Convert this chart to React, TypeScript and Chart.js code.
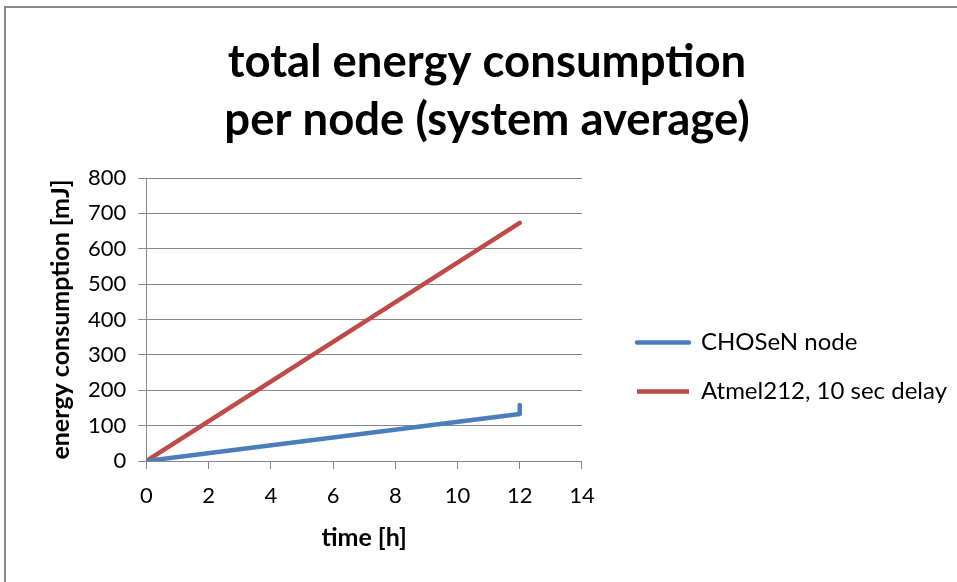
import React, { useEffect, useRef } from "react";
import { Chart, registerables } from "chart.js";

Chart.register(...registerables);

const titleLines = ["total energy consumption", "per node (system average)"];
const xAxisTitle = "time [h]";
const yAxisTitle = "energy consumption [mJ]";

const chosenLabel = "CHOSeN node";
const chosenX = [0, 12, 12];
const chosenY = [0, 133, 158];

const atmelLabel = "Atmel212, 10 sec delay";
const atmelX = [0, 12];
const atmelY = [0, 673];

const FONT = "Lato, 'Open Sans', sans-serif";
const GRID = "#878787";

const borderPlugin = {
  id: "frameBorder",
  beforeDraw(chart: any) {
    const ctx = chart.ctx;
    ctx.save();
    ctx.fillStyle = "#ffffff";
    ctx.fillRect(0, 0, chart.width, chart.height);
    ctx.strokeStyle = "#8a8a8a";
    ctx.lineWidth = 2;
    ctx.beginPath();
    ctx.moveTo(5, chart.height);
    ctx.lineTo(5, 7);
    ctx.lineTo(chart.width, 7);
    ctx.stroke();
    ctx.restore();
  },
};

export default function App() {
  const ref = useRef<HTMLCanvasElement | null>(null);
  useEffect(() => {
    if (!ref.current) return;
    const chart = new Chart(ref.current, {
      type: "line",
      data: {
        datasets: [
          {
            label: chosenLabel,
            data: chosenX.map((x, i) => ({ x, y: chosenY[i] })),
            borderColor: "#4A7EBB",
            backgroundColor: "#4A7EBB",
            borderWidth: 4.5,
            pointRadius: 0,
            tension: 0,
            borderJoinStyle: "round",
            borderCapStyle: "round",
          },
          {
            label: atmelLabel,
            data: atmelX.map((x, i) => ({ x, y: atmelY[i] })),
            borderColor: "#BE4B48",
            backgroundColor: "#BE4B48",
            borderWidth: 4.5,
            pointRadius: 0,
            tension: 0,
            borderCapStyle: "round",
          },
        ],
      },
      options: {
        responsive: false,
        animation: false,
        layout: { padding: { left: 17, right: 0, top: 33, bottom: 29 } },
        plugins: {
          title: {
            display: true,
            text: titleLines,
            color: "#000",
            font: { family: FONT, size: 45.5, weight: "bold", lineHeight: 1.275 },
            padding: { top: 0, bottom: 29 },
          },
          legend: {
            position: "right",
            align: "center",
            maxWidth: 420,
            title: {
              display: true,
              text: " ",
              font: { size: 20, lineHeight: 1.2 },
              padding: { top: 0, bottom: 124 },
            },
            labels: {
              boxWidth: 52,
              boxHeight: 0,
              padding: 25,
              color: "#000",
              font: { family: FONT, size: 24 },
            },
          },
          tooltip: { enabled: false },
        },
        scales: {
          x: {
            type: "linear",
            min: 0,
            max: 14,
            ticks: {
              stepSize: 2,
              color: "#000",
              font: { family: FONT, size: 22, lineHeight: 1.0 },
              padding: 16,
            },
            grid: {
              display: true,
              drawOnChartArea: false,
              drawTicks: true,
              tickLength: 8,
              color: GRID,
            },
            border: { display: true, color: GRID, width: 1 },
            title: {
              display: true,
              text: xAxisTitle,
              color: "#000",
              font: { family: FONT, size: 25, weight: "bold", lineHeight: 1.2 },
              padding: { top: 0, bottom: 0 },
            },
          },
          y: {
            type: "linear",
            min: 0,
            max: 800,
            ticks: {
              stepSize: 100,
              color: "#000",
              font: { family: FONT, size: 22 },
              padding: 12,
            },
            grid: {
              display: true,
              drawOnChartArea: true,
              drawTicks: true,
              tickLength: 8,
              color: GRID,
            },
            border: { display: true, color: GRID, width: 1 },
            title: {
              display: true,
              text: yAxisTitle,
              color: "#000",
              font: { family: FONT, size: 25, weight: "bold", lineHeight: 1.2 },
              padding: { top: 29, bottom: 0 },
            },
          },
          gap: {
            type: "linear",
            position: "right",
            display: true,
            grid: { display: false, drawTicks: false },
            border: { display: false },
            ticks: { display: false },
            afterFit: (s: any) => {
              s.width = 30;
            },
          },
        },
      },
      plugins: [borderPlugin],
    } as any);
    return () => chart.destroy();
  }, []);
  return (
    <div style={{ position: "absolute", left: 0, top: 0, width: 957, height: 582, overflow: "hidden" }}>
      <canvas ref={ref} width={957} height={582} style={{ display: "block" }} />
    </div>
  );
}
